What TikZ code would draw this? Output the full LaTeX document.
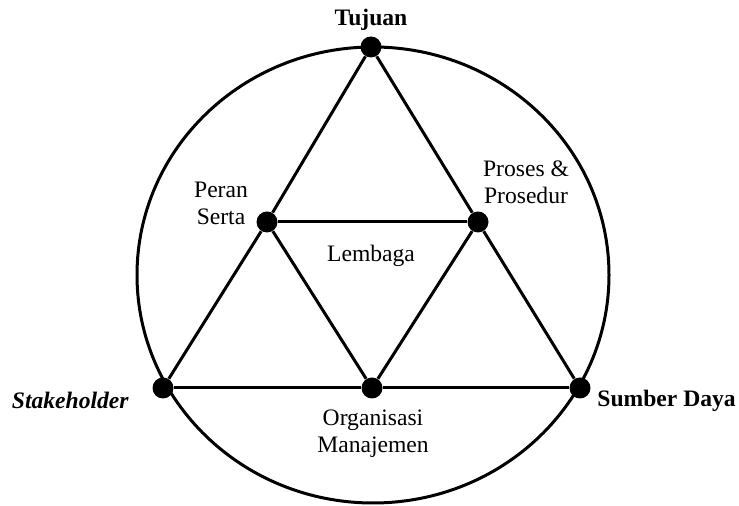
\documentclass[tikz,border=0pt]{standalone}
\usepackage{fontspec}
\setmainfont{Liberation Serif}
\usetikzlibrary{positioning}

\begin{document}
\begin{tikzpicture}[
  x=0.5pt, y=-0.5pt,
  font=\fontsize{11.8}{13.5}\selectfont,
  dot/.style={circle, fill=black, inner sep=0pt, minimum size=10.5pt},
  edge/.style={line width=1.5pt},
  lbl/.style={align=center, inner sep=0pt},
  key/.style={lbl, font=\fontsize{11.8}{13.5}\selectfont\bfseries},
]

% ---- Frame (image pixels) ---------------------------------------------------
\useasboundingbox (0,0) rectangle (739,506);

% ---- Outer circle -----------------------------------------------------------
\draw[edge] (373,275) ellipse [x radius=118pt, y radius=114pt];

% ---- Points -----------------------------------------------------------------
\node[dot] (tujuan)  at (371,47)  {};
\node[dot] (stake)   at (163,388) {};
\node[dot] (sumber)  at (580,388) {};
\node[dot] (peran)   at (267,222) {};
\node[dot] (proses)  at (478,222) {};
\node[dot] (organ)   at (372,388) {};

% ---- Triangles --------------------------------------------------------------
\draw[edge] (tujuan) -- (peran);
\draw[edge] (peran)  -- (stake);
\draw[edge] (tujuan) -- (proses);
\draw[edge] (proses) -- (sumber);
\draw[edge] (stake)  -- (organ);
\draw[edge] (organ)  -- (sumber);
\draw[edge] (peran)  -- (proses);
\draw[edge] (peran)  -- (organ);
\draw[edge] (proses) -- (organ);

% ---- Labels -----------------------------------------------------------------
\node[key] (tTujuan) at (371,20) {Tujuan};
\node[key, font=\fontsize{11.8}{13.5}\selectfont\bfseries\itshape, anchor=east]
  (tStake) at (129,400) {Stakeholder};
\node[key, anchor=west] (tSumber) at (597,401) {Sumber Daya};
\node[lbl] (tPeran)  at (221,203) {Peran\\Serta};
\node[lbl] (tProses) at (526,182) {Proses \&\\Prosedur};
\node[lbl] (tLembaga) at (371,256) {Lembaga};
\node[lbl] (tOrgan)  at (373,434) {Organisasi\\Manajemen};

\end{tikzpicture}
\end{document}
